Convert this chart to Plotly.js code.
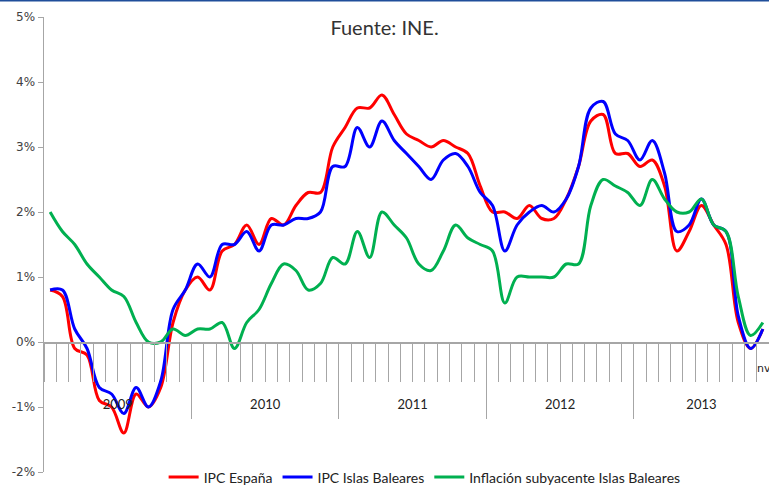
<!DOCTYPE html>
<html>
<head>
<meta charset="utf-8">
<script src="https://cdn.plot.ly/plotly-3.0.1.min.js"></script>
<style>
  html, body { margin: 0; padding: 0; background: #fff; }
  #chart { width: 769px; height: 486px; }
</style>
</head>
<body>
<div id="chart"></div>
<script>
// months from jan 2009 to nov 2013 (index 0..58)
var months = Array.from({ length: 59 }, (_, i) => i);

var ipcEspana = [
  0.8, 0.7, -0.1, -0.2, -0.9, -1.0, -1.4, -0.8, -1.0, -0.7, 0.3, 0.8,
  1.0, 0.8, 1.4, 1.5, 1.8, 1.5, 1.9, 1.8, 2.1, 2.3, 2.3, 3.0,
  3.3, 3.6, 3.6, 3.8, 3.5, 3.2, 3.1, 3.0, 3.1, 3.0, 2.9, 2.4,
  2.0, 2.0, 1.9, 2.1, 1.9, 1.9, 2.2, 2.7, 3.4, 3.5, 2.9, 2.9,
  2.7, 2.8, 2.4, 1.4, 1.7, 2.1, 1.8, 1.5, 0.3, -0.1, 0.2
];

var ipcBaleares = [
  0.8, 0.8, 0.2, -0.1, -0.7, -0.8, -1.1, -0.7, -1.0, -0.6, 0.5, 0.8,
  1.2, 1.0, 1.5, 1.5, 1.7, 1.4, 1.8, 1.8, 1.9, 1.9, 2.0, 2.7,
  2.7, 3.3, 3.0, 3.4, 3.1, 2.9, 2.7, 2.5, 2.8, 2.9, 2.7, 2.3,
  2.1, 1.4, 1.8, 2.0, 2.1, 2.0, 2.2, 2.7, 3.6, 3.7, 3.2, 3.1,
  2.8, 3.1, 2.6, 1.7, 1.8, 2.2, 1.8, 1.7, 0.4, -0.1, 0.2
];

var subyacenteBaleares = [
  2.0, 1.7, 1.5, 1.2, 1.0, 0.8, 0.7, 0.3, 0.0, 0.0, 0.2, 0.1,
  0.2, 0.2, 0.3, -0.1, 0.3, 0.5, 0.9, 1.2, 1.1, 0.8, 0.9, 1.3,
  1.2, 1.7, 1.3, 2.0, 1.8, 1.6, 1.2, 1.1, 1.4, 1.8, 1.6, 1.5,
  1.4, 0.6, 1.0, 1.0, 1.0, 1.0, 1.2, 1.2, 2.1, 2.5, 2.4, 2.3,
  2.1, 2.5, 2.2, 2.0, 2.0, 2.2, 1.8, 1.7, 0.7, 0.1, 0.3
];

var yearLabels = ['2009', '2010', '2011', '2012', '2013'];
var yearCenters = [5.5, 17.5, 29.5, 41.5, 53];
var yearBounds = [11.5, 23.5, 35.5, 47.5];
var yTicks = [-2, -1, 0, 1, 2, 3, 4, 5];
var yTickText = ['-2%', '-1%', '0%', '1%', '2%', '3%', '4%', '5%'];

function serie(y, name, color) {
  return {
    x: months,
    y: y,
    type: 'scatter',
    mode: 'lines',
    name: name,
    line: { color: color, width: 3, shape: 'spline', smoothing: 1 },
    hoverinfo: 'skip'
  };
}

var traces = [
  serie(ipcEspana, 'IPC España', '#ff0000'),
  serie(ipcBaleares, 'IPC Islas Baleares', '#0000ff'),
  serie(subyacenteBaleares, 'Inflación subyacente Islas Baleares', '#00b050')
];

var layout = {
  width: 769,
  height: 486,
  margin: { l: 44, r: 0, t: 17, b: 14, autoexpand: false },
  paper_bgcolor: '#fff',
  plot_bgcolor: '#fff',
  showlegend: true,
  title: {
    text: 'Fuente: INE.',
    font: { family: 'Lato, sans-serif', size: 20, color: '#333' },
    x: 0.5, xanchor: 'center',
    y: 0.942, yanchor: 'middle'
  },
  xaxis: {
    range: [-0.5, 58.5],
    anchor: 'free',
    position: 2 / 7,
    showgrid: false,
    zeroline: false,
    showline: true,
    linecolor: '#a6a6a6',
    linewidth: 1.5,
    tickmode: 'array',
    tickvals: yearBounds,
    showticklabels: false,
    ticks: 'outside',
    ticklen: 75,
    tickwidth: 1,
    tickcolor: '#a6a6a6',
    minor: {
      tickmode: 'linear',
      tick0: 0.5,
      dtick: 1,
      ticks: 'outside',
      ticklen: 38,
      tickwidth: 1,
      tickcolor: '#a6a6a6',
      showgrid: false
    },
    fixedrange: true
  },
  xaxis2: {
    overlaying: 'x',
    range: [-0.5, 58.5],
    anchor: 'free',
    position: 0.17,
    showgrid: false,
    zeroline: false,
    showline: false,
    ticks: '',
    tickmode: 'array',
    tickvals: yearCenters,
    ticktext: yearLabels,
    tickfont: { family: 'Lato, sans-serif', size: 13, color: '#222' }
  },
  yaxis: {
    range: [-2, 5],
    showgrid: false,
    zeroline: false,
    showline: true,
    linecolor: '#a6a6a6',
    linewidth: 1.5,
    tickmode: 'array',
    tickvals: yTicks,
    ticktext: yTickText,
    ticks: 'outside',
    ticklen: 5,
    tickcolor: '#a6a6a6',
    tickfont: { family: 'DejaVu Sans, sans-serif', size: 12, color: '#404040' },
    fixedrange: true
  },
  legend: {
    orientation: 'h',
    x: 0.165,
    xanchor: 'left',
    y: -0.012,
    yanchor: 'middle',
    font: { family: 'Lato, sans-serif', size: 14, color: '#222' },
    itemwidth: 30,
    tracegroupgap: 0,
    bgcolor: 'rgba(0,0,0,0)'
  },
  annotations: [
    {
      text: 'nv',
      xref: 'x', yref: 'y',
      x: 57.4, y: -0.4,
      xanchor: 'left', yanchor: 'middle',
      showarrow: false,
      font: { family: 'DejaVu Sans, sans-serif', size: 11, color: '#222' }
    }
  ],
  shapes: [
    {
      type: 'line', xref: 'paper', yref: 'paper',
      x0: -0.07, x1: 1.01, y0: 1.036, y1: 1.036,
      line: { color: '#1f4e9a', width: 2 }
    }
  ]
};

// dummy trace so xaxis2 is drawn
traces.push({ x: [0], y: [null], xaxis: 'x2', showlegend: false, hoverinfo: 'skip', type: 'scatter', mode: 'lines' });

Plotly.newPlot('chart', traces, layout, { displayModeBar: false, staticPlot: true });
</script>
</body>
</html>
